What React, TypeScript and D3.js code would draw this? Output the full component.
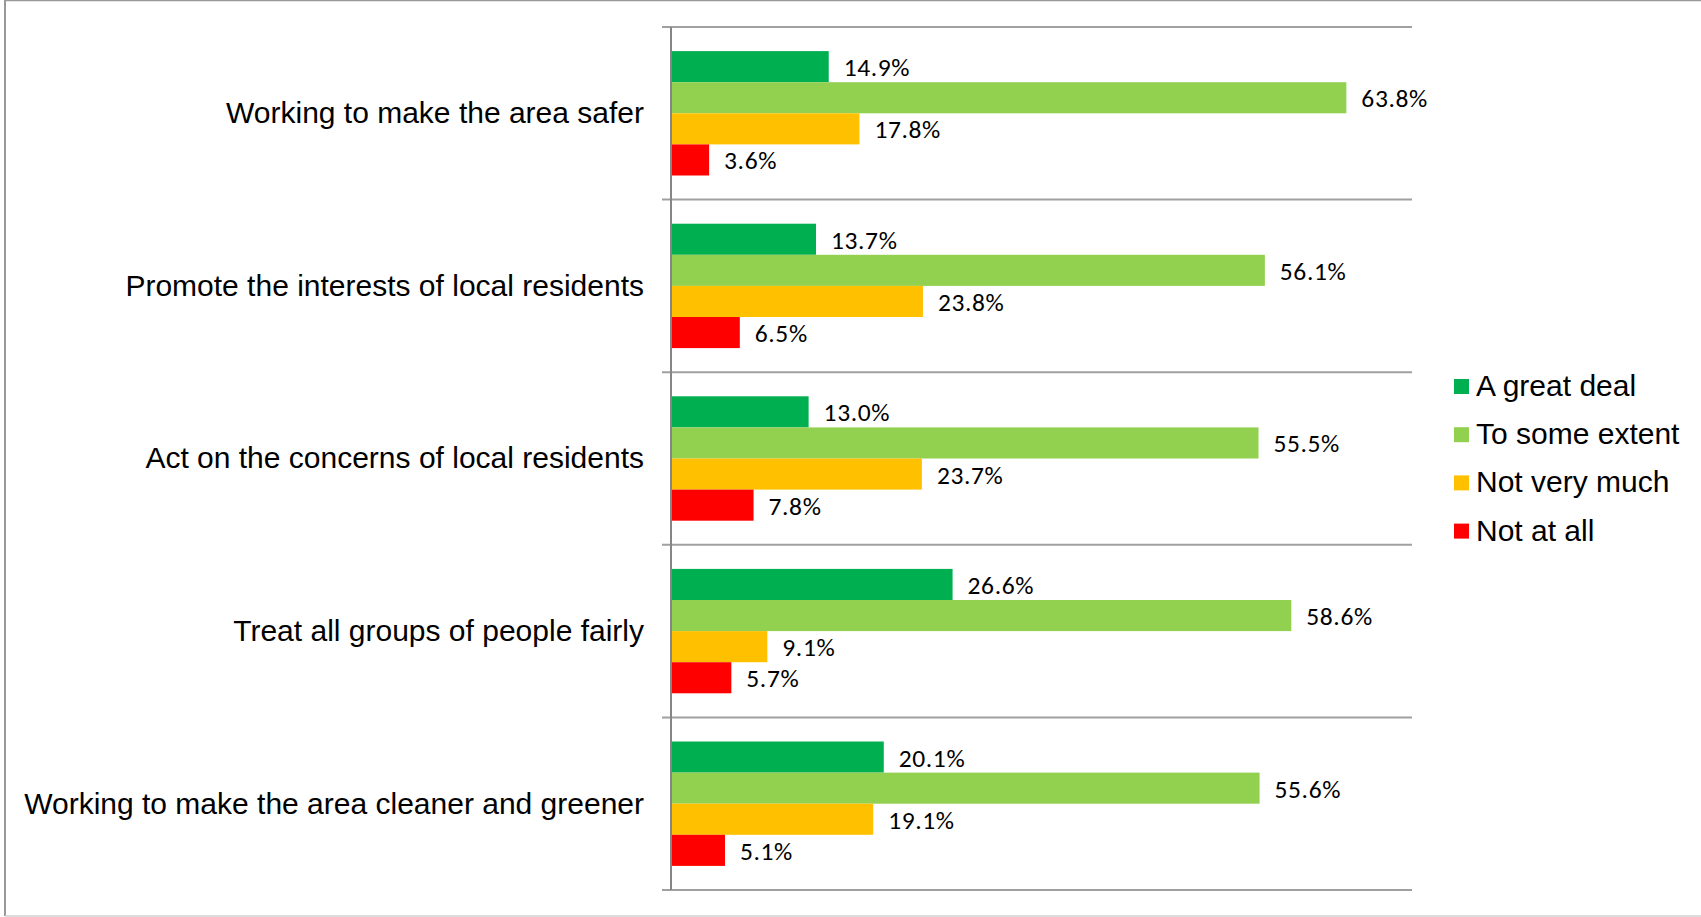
import React from "react";
import * as d3 from "d3";

const categories = [
  "Working to make the area safer",
  "Promote the interests of local residents",
  "Act on the concerns of local residents",
  "Treat all groups of people fairly",
  "Working to make the area cleaner and greener",
];
const series = ["A great deal", "To some extent", "Not very much", "Not at all"];
const greatDeal = [14.9, 13.7, 13.0, 26.6, 20.1];
const someExtent = [63.8, 56.1, 55.5, 58.6, 55.6];
const notVeryMuch = [17.8, 23.8, 23.7, 9.1, 19.1];
const notAtAll = [3.6, 6.5, 7.8, 5.7, 5.1];
const colors = ["#00B050", "#92D050", "#FFC000", "#FF0000"];

const values = [greatDeal, someExtent, notVeryMuch, notAtAll];

const W = 1701;
const H = 917;

export default function App() {
  const x = d3.scaleLinear().domain([0, 70]).range([671, 1412]);
  const y = d3.scaleBand<string>().domain(categories).range([27, 890]).paddingInner(0).paddingOuter(0);
  const sub = d3
    .scaleBand<string>()
    .domain(series)
    .range([0, y.bandwidth()])
    .paddingInner(0)
    .paddingOuter(0.775);

  const boundaries = categories.map((c) => y(c)!).concat([y.range()[1]]);
  const catFont = "'Liberation Sans', Arial, sans-serif";
  const valFont = "Carlito, Calibri, Lato, sans-serif";

  return (
    <svg
      width={W}
      height={H}
      style={{ position: "absolute", left: 0, top: 0, background: "#fff" }}
    >
      {/* outer frame */}
      <line x1={5} x2={W} y1={0.5} y2={0.5} stroke="#999" strokeWidth={1.5} />
      <line x1={5} x2={5} y1={0} y2={916} stroke="#999" strokeWidth={2} />
      <line x1={5} x2={W} y1={916} y2={916} stroke="#d0d0d0" strokeWidth={1.5} />

      {/* gridlines at category boundaries */}
      {boundaries.map((b, i) => (
        <line key={i} x1={662} x2={x(70)} y1={b} y2={b} stroke="#a0a0a0" strokeWidth={2} />
      ))}

      {/* bars */}
      {categories.map((c, ci) => (
        <g key={c} transform={`translate(0,${y(c)})`}>
          {series.map((s, si) => {
            const v = values[si][ci];
            const yy = sub(s)!;
            const bw = sub.bandwidth();
            return (
              <g key={s}>
                <rect x={x(0)} y={yy} width={x(v) - x(0)} height={bw} fill={colors[si]} />
                <text
                  x={x(v) + 15}
                  y={yy + bw / 2 + 9.5}
                  fontFamily={valFont}
                  fontSize={25.5}
                  letterSpacing={0.6}
                  fill="#000"
                >
                  {v.toFixed(1) + "%"}
                </text>
              </g>
            );
          })}
          <text
            x={644}
            y={y.bandwidth() / 2 + 10}
            textAnchor="end"
            fontFamily={catFont}
            fontSize={30}
            fill="#000"
          >
            {c}
          </text>
        </g>
      ))}

      {/* vertical axis */}
      <line x1={x(0)} x2={x(0)} y1={27} y2={890} stroke="#868686" strokeWidth={2} />

      {/* legend */}
      {series.map((s, i) => (
        <g key={s} transform={`translate(1454,${379 + i * 48.2})`}>
          <rect x={0} y={0} width={15} height={15} fill={colors[i]} />
          <text x={22} y={17} fontFamily={catFont} fontSize={30} fill="#000">
            {s}
          </text>
        </g>
      ))}
    </svg>
  );
}
